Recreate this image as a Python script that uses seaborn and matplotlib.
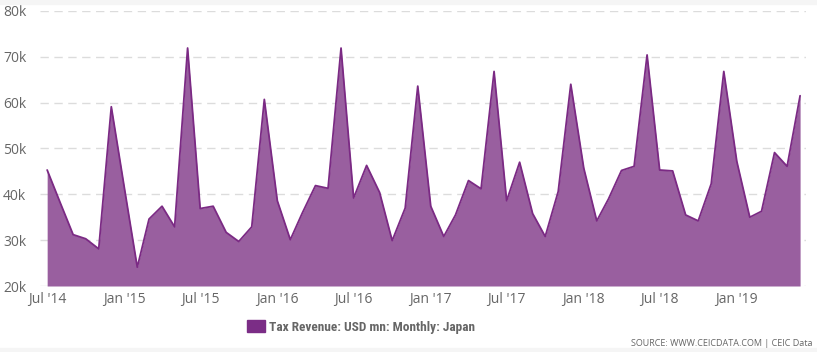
import pandas as pd
import matplotlib.pyplot as plt
import matplotlib.patches as mpatches
import seaborn as sns

# Monthly tax revenue, Japan (USD mn), Jul 2014 - Jun 2019
start_month = '2014-07-01'
revenue_k = [
    45.3, 38.2, 31.2, 30.3, 28.1, 59.1,
    41.5, 24.1, 34.6, 37.4, 32.9, 71.9, 36.9, 37.4, 31.7, 29.7, 32.9, 60.7,
    38.6, 30.1, 36.0, 41.9, 41.3, 71.9, 39.2, 46.3, 40.4, 29.9, 37.0, 63.6,
    37.4, 30.8, 35.5, 43.0, 41.2, 66.8, 38.6, 47.0, 35.8, 30.8, 40.6, 64.0,
    45.7, 34.2, 39.0, 45.2, 46.1, 70.4, 45.3, 45.1, 35.5, 34.2, 42.3, 66.8,
    47.2, 35.0, 36.3, 49.1, 46.1, 61.5,
]
y_ticks = [20, 30, 40, 50, 60, 70, 80]
series_name = 'Tax Revenue: USD mn: Monthly: Japan'

df = pd.DataFrame({
    'Month': pd.date_range(start_month, periods=len(revenue_k), freq='MS'),
    'Revenue': [v * 1000 for v in revenue_k],
})

sns.set_style('white')
plt.rcParams['font.family'] = ['Open Sans', 'DejaVu Sans']

line_color = '#7b2a84'
fill_color = '#995f9f'
text_color = '#666666'

fig = plt.figure(figsize=(8.17, 3.52), dpi=100)
ax = fig.add_axes([0.049, 0.1875, 0.9375, 0.7815])

ax.fill_between(df['Month'], 20000, df['Revenue'], color=fill_color, lw=0, zorder=2)
sns.lineplot(data=df, x='Month', y='Revenue', color=line_color, lw=1.3, ax=ax, zorder=3)

ax.set_ylim(20000, 80000)
ax.set_xlim(df['Month'].iloc[0] - pd.Timedelta(days=17),
            df['Month'].iloc[-1] + pd.Timedelta(days=14))
ax.set_yticks([v * 1000 for v in y_ticks])
ax.set_yticklabels([f'{v}k' for v in y_ticks])

tick_months = df['Month'][df['Month'].dt.month.isin([1, 7])]
ax.set_xticks(tick_months)
ax.set_xticklabels([d.strftime("%b '%y") for d in tick_months])

ax.grid(axis='y', color='#dcdcdc', linestyle=(0, (6, 4)), lw=1, zorder=0)
ax.grid(axis='x', visible=False)
for s in ax.spines.values():
    s.set_visible(False)
ax.tick_params(axis='y', length=0, pad=10, labelsize=10, labelcolor=text_color)
ax.tick_params(axis='x', length=0, pad=4, labelsize=10, labelcolor=text_color)
ax.set_xlabel('')
ax.set_ylabel('')

handle = mpatches.Patch(color='#7b2d86', label=series_name)
leg = fig.legend(handles=[handle], loc='center', bbox_to_anchor=(0.442, 0.071),
                 frameon=False, handlelength=1.35, handleheight=0.95, handletextpad=0.35,
                 prop={'family': ['Roboto Condensed', 'DejaVu Sans Condensed', 'Roboto'],
                       'weight': 'bold', 'size': 9.6})
for t in leg.get_texts():
    t.set_color(text_color)

fig.text(0.994, 0.025, 'SOURCE: WWW.CEICDATA.COM | CEIC Data', ha='right', va='center',
         fontsize=6.5, color=text_color)

# light grey bands at top and bottom
fig.patches.append(mpatches.Rectangle((0, 0.988), 1, 0.012, transform=fig.transFigure,
                                      color='#f5f5f5', zorder=0))
fig.patches.append(mpatches.Rectangle((0, 0), 1, 0.01, transform=fig.transFigure,
                                      color='#f5f5f5', zorder=0))

fig.savefig('out.png', dpi=100)
